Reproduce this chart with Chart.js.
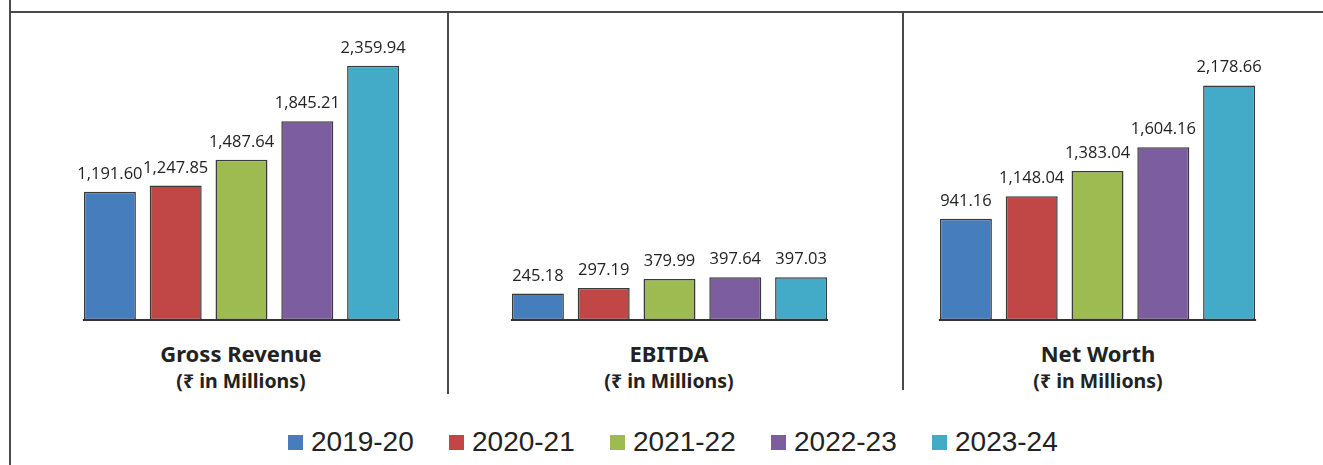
<!DOCTYPE html>
<html>
<head>
<meta charset="utf-8">
<script src="https://cdn.jsdelivr.net/npm/chart.js@4"></script>
<style>
    body { margin: 0; background: #fff; width: 1323px; height: 465px; overflow: hidden; position: relative; font-family: "Open Sans", sans-serif; }
    .line { position: absolute; background: #4a4a4a; }
    canvas { position: absolute; }
    .title { position: absolute; width: 300px; text-align: center; font-family: "Noto Sans", sans-serif; font-weight: bold; color: #222; line-height: 1; }
    .t1 { font-size: 22px; top: 342px; }
    .t2 { font-size: 19.5px; top: 371px; }
    #legend { position: absolute; left: 288px; top: 426px; display: flex; }
    .item { width: 161px; display: flex; align-items: center; font-family: "Liberation Sans", sans-serif; font-size: 28px; color: #222; }
    .box { width: 15px; height: 15px; margin-right: 8px; }
</style>
</head>
<body>
<div class="line" style="left:9px;top:0;width:2px;height:465px"></div>
<div class="line" style="left:9px;top:11px;width:1314px;height:2px"></div>
<div class="line" style="left:447px;top:12px;width:2px;height:382px"></div>
<div class="line" style="left:902px;top:12px;width:2px;height:378px"></div>

<canvas id="chart1" width="329" height="310" style="left:77px;top:20px"></canvas>
<canvas id="chart2" width="329" height="310" style="left:505px;top:20px"></canvas>
<canvas id="chart3" width="329" height="310" style="left:933px;top:20px"></canvas>

<div class="title t1" style="left:91px">Gross Revenue</div>
<div class="title t2" style="left:91px">(₹ in Millions)</div>
<div class="title t1" style="left:519px">EBITDA</div>
<div class="title t2" style="left:519px">(₹ in Millions)</div>
<div class="title t1" style="left:948px">Net Worth</div>
<div class="title t2" style="left:948px">(₹ in Millions)</div>

<div id="legend"></div>

<script>
const years = ["2019-20", "2020-21", "2021-22", "2022-23", "2023-24"];
const grossRevenue = [1191.60, 1247.85, 1487.64, 1845.21, 2359.94];
const ebitda = [245.18, 297.19, 379.99, 397.64, 397.03];
const netWorth = [941.16, 1148.04, 1383.04, 1604.16, 2178.66];
const yearColors = ["#457DBD", "#C04745", "#9DBB50", "#7C5DA0", "#43AAC7"];

// value labels above each bar + a baseline under the bars
const barLabels = {
    id: "barLabels",
    afterDatasetsDraw(chart) {
        let ctx = chart.ctx;
        let meta = chart.getDatasetMeta(0);
        let data = chart.data.datasets[0].data;
        ctx.save();
        ctx.font = "16.5px 'Open Sans', sans-serif";
        ctx.fillStyle = "#222";
        ctx.textAlign = "center";
        ctx.textBaseline = "alphabetic";
        meta.data.forEach((bar, i) => {
            let txt = data[i].toLocaleString("en-US", { minimumFractionDigits: 2, maximumFractionDigits: 2 });
            ctx.fillText(txt, bar.x, bar.y - 13);
        });

        let first = meta.data[0], last = meta.data[meta.data.length - 1];
        let y0 = chart.scales.y.getPixelForValue(0);
        ctx.strokeStyle = "#333";
        ctx.lineWidth = 2;
        ctx.beginPath();
        ctx.moveTo(first.x - first.width / 2 - 1, y0);
        ctx.lineTo(last.x + last.width / 2 + 1, y0);
        ctx.stroke();
        ctx.restore();
    }
};

function makeChart(id, values) {
    let config = {
        type: "bar",
        data: {
            labels: years,
            datasets: [
                {
                    data: values,
                    backgroundColor: yearColors,
                    borderColor: "#3a3a3a",
                    borderWidth: 1.5,
                    borderSkipped: false,
                    categoryPercentage: 1,
                    barPercentage: 0.79
                }
            ]
        },
        options: {
            responsive: false,
            animation: false,
            layout: { padding: { top: 20, bottom: 10, left: 0, right: 0 } },
            plugins: {
                legend: { display: false },
                tooltip: { enabled: false }
            },
            scales: {
                x: { display: false },
                y: { display: false, min: 0, max: 2600 }
            }
        },
        plugins: [barLabels]
    };
    let ctx = document.getElementById(id).getContext("2d");
    return new Chart(ctx, config);
}

makeChart("chart1", grossRevenue);
makeChart("chart2", ebitda);
makeChart("chart3", netWorth);

let legend = document.getElementById("legend");
years.forEach((y, i) => {
    let item = document.createElement("div");
    item.className = "item";
    item.innerHTML = '<span class="box" style="background:' + yearColors[i] + '"></span>' + y;
    legend.appendChild(item);
});
</script>
</body>
</html>
